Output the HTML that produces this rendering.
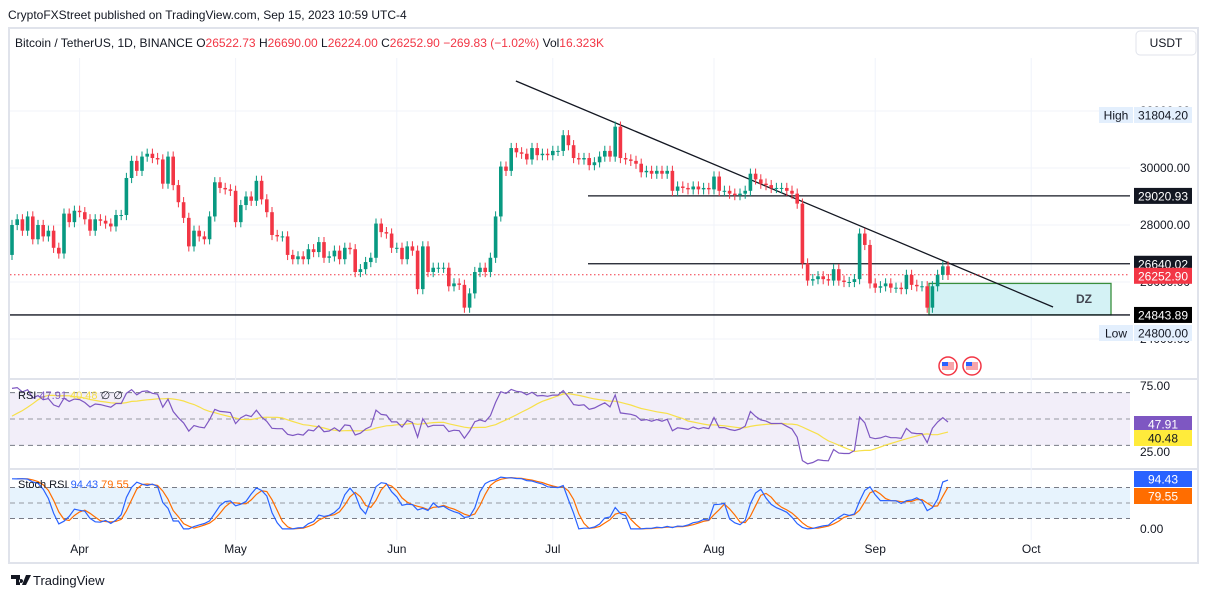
<!DOCTYPE html>
<html><head><meta charset="utf-8"><style>
body{margin:0;background:#fff;font-family:"Liberation Sans",sans-serif}
svg{display:block}
text{font-family:"Liberation Sans",sans-serif}
</style></head><body>
<svg id="c" width="1207" height="598" xmlns="http://www.w3.org/2000/svg">
<text x="8" y="19" font-size="12" fill="#131722">CryptoFXStreet published on TradingView.com, Sep 15, 2023 10:59 UTC-4</text>
<rect x="9" y="28" width="1189" height="535" fill="none" stroke="#e0e3eb" stroke-width="2"/>
<text x="15" y="47" font-size="12" fill="#131722">Bitcoin / TetherUS, 1D, BINANCE  <tspan fill="#131722">O</tspan><tspan fill="#f23645">26522.73</tspan>  <tspan fill="#131722">H</tspan><tspan fill="#f23645">26690.00</tspan>  <tspan fill="#131722">L</tspan><tspan fill="#f23645">26224.00</tspan>  <tspan fill="#131722">C</tspan><tspan fill="#f23645">26252.90</tspan>  <tspan fill="#f23645">−269.83 (−1.02%)</tspan>  <tspan fill="#131722">Vol</tspan><tspan fill="#f23645">16.323K</tspan></text>
<g><rect x="1136" y="31" width="60" height="24" rx="4" fill="#fff" stroke="#e0e3eb"/><text x="1166" y="47" font-size="12" text-anchor="middle" fill="#131722">USDT</text></g>
<line x1="10" y1="379" x2="1197" y2="379" stroke="#e0e3eb" stroke-width="2"/>
<line x1="10" y1="469" x2="1197" y2="469" stroke="#e0e3eb" stroke-width="2"/>
<g id="grid"></g><g id="ann"></g><g id="candles"></g><g id="rsi"></g><g id="stoch"></g><g id="axis"></g>
<g><path d="M11 575h9v10h-4v-6h-5zM21 579a2 2 0 1 0 .1 0zM26 575h5l-5 10h-4z" fill="#131722"/><text x="33" y="585" font-size="13" fill="#131722">TradingView</text></g>
</svg>
<script>
const warmup=[23000,23500,23100,23600,23200,23150,23500,23000,23300,23100,23200,23400,23600,23450,22350,22400,22450,22400,22200,21700,20350,20200,20600,22150,24200,24750,24400,25050,27450,26950];
const closes=[28000,28200,27800,28300,27500,28000,27600,27800,27200,27000,28400,28100,28500,
28450,28200,27800,28200,28150,28050,27950,28350,28350,29650,30250,29900,30400,30500,30350,30300,29450,30400,29400,28800,28250,27250,27800,27600,27500,28300,29500,29300,29250,29200,
28100,28700,29000,28850,29550,28900,28450,27650,27600,27600,26950,26800,26900,26800,27150,27050,27400,26850,26900,27100,26800,27200,27150,26350,26450,26700,26850,28050,27750,27700,27200,
27200,26800,27250,27100,25750,27250,26350,26500,26500,26500,25850,25950,25900,25100,25600,26350,26500,26350,26850,28300,30050,29900,30700,30550,30500,30300,30700,30450,30500,30450,
30600,30600,31150,30800,30350,30300,30350,30100,30200,30400,30600,30400,31450,30350,30300,30250,30150,29850,29900,29800,29900,29800,29900,29200,29350,29300,29250,29350,29250,29300,29250,
29700,29200,29200,29100,29050,29100,29200,29800,29600,29450,29400,29300,29300,29300,29200,29100,28750,26650,26050,26100,26200,26100,26050,26450,26050,26000,26000,26100,27700,27300,25950,
25800,25850,25950,25800,25800,25750,26250,25900,25850,25850,25100,25850,26250,26550,26250];
const monthLabels=["Apr","May","Jun","Jul","Aug","Sep","Oct"];
const monthIdx=[13,43,74,104,135,166,196];
const priceTicks=[24000,26000,28000,30000,32000];
const levels=[29020.93,26640.02,24843.89];
const lastPrice=26252.90;
const rsiTicks=[25,75];
const stochTicks=[0];

const NS="http://www.w3.org/2000/svg";
const X=i=>12+i*5.2;
const Y=p=>168+(30000-p)*0.0285;
const YR=v=>419-(v-50)*1.32;
const YS=v=>503-(v-50)*0.517;
function el(t,a,p){const e=document.createElementNS(NS,t);for(const k in a)e.setAttribute(k,a[k]);p.appendChild(e);return e;}
const G=id=>document.getElementById(id);

// grid
const grid=G('grid');
monthIdx.forEach(i=>{const l=el('line',{x1:X(i),x2:X(i),y1:58,y2:540,stroke:'#f0f3fa'},grid);

});
priceTicks.forEach(p=>{const l=el('line',{x1:10,x2:1130,y1:Y(p),y2:Y(p),stroke:'#f0f3fa'},grid);

});

// indicators computation
const all=warmup.concat(closes);const N=warmup.length;
let rsiAll=[],ag=0,al=0;
for(let i=1;i<all.length;i++){const d=all[i]-all[i-1];const g=Math.max(d,0),lo=Math.max(-d,0);
 if(i<=14){ag+=g/14;al+=lo/14;}else{ag=(ag*13+g)/14;al=(al*13+lo)/14;}
 rsiAll[i]=i>=14?100-100/(1+ag/(al||1e-9)):null;}
const rsiMA=rsiAll.map((v,i)=>{if(i<27)return null;let s=0;for(let k=0;k<14;k++)s+=rsiAll[i-k];return s/14;});
const st=rsiAll.map((v,i)=>{if(i<27)return null;let mn=1e9,mx=-1e9;for(let k=0;k<14;k++){mn=Math.min(mn,rsiAll[i-k]);mx=Math.max(mx,rsiAll[i-k]);}return mx>mn?(v-mn)/(mx-mn)*100:50;});
const sma3=(a,i)=>(a[i]!=null&&a[i-1]!=null&&a[i-2]!=null)?(a[i]+a[i-1]+a[i-2])/3:null;
const K=st.map((v,i)=>sma3(st,i));const D=K.map((v,i)=>sma3(K,i));

// annotations
const ann=G('ann');
function line(x1,y1,x2,y2,name,extra){const l=el('line',Object.assign({x1,y1,x2,y2,stroke:'#131722','stroke-width':1.3},extra||{}),ann);return l;}
const dz=el('rect',{x:929,y:Y(25950),width:182,height:Y(24843.89)-Y(25950),fill:'#d4f2f5',stroke:'#388e3c','stroke-width':1.3},ann);


const dzt=el('text',{x:1084,y:303,'font-size':12,'font-weight':'bold',fill:'#434651','text-anchor':'middle'},ann);dzt.textContent='DZ';


line(X(96.9),Y(33053),X(200.2),Y(25123),'trendline');
line(588,Y(levels[0]),1130,Y(levels[0]),'level-29020');
line(588,Y(levels[1]),1130,Y(levels[1]),'level-26640');
line(10,Y(levels[2]),1130,Y(levels[2]),'level-24843');
line(10,Y(lastPrice),1130,Y(lastPrice),'last-price-line',{stroke:'#f23645','stroke-width':1,'stroke-dasharray':'1.5 2.5'});

// candles
const cg=G('candles');
closes.forEach((c,i)=>{const o=i?closes[i-1]:warmup[N-1];const up=c>=o;const col=up?'#089981':'#f23645';
 const hi=Math.max(o,c)+180,lo=Math.min(o,c)-180;const x=X(i);
 const w=el('line',{x1:x,x2:x,y1:Y(hi),y2:Y(lo),stroke:col},cg);
 
 
 const b=el('rect',{x:x-1.8,y:Y(Math.max(o,c)),width:3.6,height:Math.max(1,Math.abs(Y(o)-Y(c))),fill:col},cg);
 
 });

// RSI pane
const rg=G('rsi');
const rb=el('rect',{x:10,y:YR(70),width:1120,height:YR(30)-YR(70),fill:'#f2eef9'},rg);


[70,50,30].forEach(v=>{const l=el('line',{x1:10,x2:1130,y1:YR(v),y2:YR(v),stroke:v==50?'#9598a1':'#787b86','stroke-dasharray':'5 4'},rg);

});
function pl(arr,f,col,name,g,w){let d='';closes.forEach((c,i)=>{const v=arr[i+N];if(v!=null)d+=(d?'L':'M')+X(i).toFixed(1)+' '+f(v).toFixed(1);});
 const p=el('path',{d,fill:'none',stroke:col,'stroke-width':w||1.2},g);}
pl(rsiMA,YR,'#f7e04a','rsi-ma-line',rg);
pl(rsiAll,YR,'#7e57c2','rsi-line',rg);
const rl=el('text',{x:18,y:399,'font-size':11,fill:'#131722'},rg);
rl.innerHTML='RSI <tspan fill="#7e57c2">47.91</tspan> <tspan fill="#f7e04a">40.48</tspan> ∅ ∅';



// Stoch pane
const sg=G('stoch');
const sb=el('rect',{x:10,y:YS(80),width:1120,height:YS(20)-YS(80),fill:'#e7f3fd'},sg);


[80,50,20].forEach(v=>{const l=el('line',{x1:10,x2:1130,y1:YS(v),y2:YS(v),stroke:v==50?'#9598a1':'#787b86','stroke-dasharray':'5 4'},sg);

});
pl(D,YS,'#ff6d00','stoch-d-line',sg);
pl(K,YS,'#2962ff','stoch-k-line',sg);
const sl=el('text',{x:18,y:488,'font-size':11,fill:'#131722'},sg);
sl.innerHTML='Stoch RSI <tspan fill="#2962ff">94.43</tspan> <tspan fill="#ff6d00">79.55</tspan>';



// axes
const ax=G('axis');
function txt(x,y,s,col,name,anchor){const t=el('text',{x,y,'font-size':12,fill:col,'text-anchor':anchor||'start'},ax);t.textContent=s;return t;}
function tag(y,s,bg,fg,name){const r=el('rect',{x:1134,y:y-8,width:58,height:16,fill:bg},ax);txt(1163,y+4.5,s,fg,name,'middle');}
priceTicks.forEach(p=>txt(1140,Y(p)+4,p.toFixed(2),'#131722','price-tick'));
rsiTicks.forEach(v=>txt(1140,YR(v)+4,v.toFixed(2),'#131722','rsi-tick'));
stochTicks.forEach(v=>txt(1140,YS(v)+4,v.toFixed(2),'#131722','stoch-tick'));
monthLabels.forEach((m,i)=>txt(X(monthIdx[i]),553,m,'#131722','month-label','middle'));
const hb=el('rect',{x:1099,y:107,width:34,height:16,fill:'#e3effd'},ax);
txt(1116,119.5,'High','#131722','high-label','middle');tag(115,'31804.20','#e3effd','#131722','high-value');
const lb=el('rect',{x:1099,y:325,width:34,height:16,fill:'#e3effd'},ax);
txt(1116,337.5,'Low','#131722','low-label','middle');tag(333,'24800.00','#e3effd','#131722','low-value');
tag(Y(levels[0]),'29020.93','#131722','#fff','level-29020-tag');
tag(Y(levels[1]),'26640.02','#131722','#fff','level-26640-tag');
tag(Y(lastPrice)+1,'26252.90','#f23645','#fff','last-price-tag');
tag(Y(levels[2]),'24843.89','#000','#fff','level-24843-tag');
tag(424,'47.91','#7e57c2','#fff','rsi-value-tag');
tag(438,'40.48','#ffeb3b','#131722','rsi-ma-value-tag');
tag(479,'94.43','#2962ff','#fff','stoch-k-tag');
tag(496,'79.55','#ff6d00','#fff','stoch-d-tag');
// event flags
[[948,366],[972,366]].forEach(p=>{const g=el('g',{},ax);
el('circle',{cx:p[0],cy:p[1],r:9,fill:'#fff',stroke:'#f23645','stroke-width':1.5},g);
el('rect',{x:p[0]-6,y:p[1]-4,width:12,height:8,fill:'#f7a5ab'},g);el('rect',{x:p[0]-6,y:p[1]-4,width:6,height:4,fill:'#2962ff'},g);});
</script>
</body></html>
